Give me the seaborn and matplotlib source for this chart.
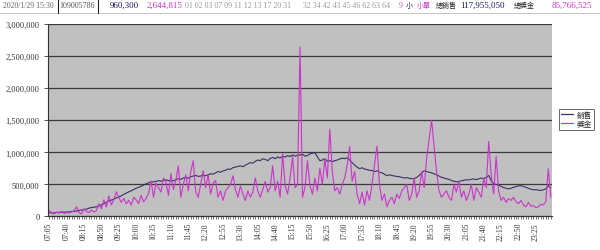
import matplotlib
matplotlib.use("Agg")
import matplotlib.pyplot as plt
import seaborn as sns
import pandas as pd
from matplotlib.lines import Line2D
from matplotlib.ticker import FuncFormatter, MultipleLocator

# ---- data (values in thousands) ----
start_min = 7 * 60 + 5
times = [f"{(start_min + 5 * k) // 60:02d}:{(start_min + 5 * k) % 60:02d}" for k in range(203)]

sales_k = [
    60, 55, 58, 62, 65, 63, 68, 70, 72, 75,
    80, 85, 95, 100, 110, 115, 130, 140, 145, 150,
    165, 180, 200, 220, 243, 255, 270, 290, 305, 320,
    345, 365, 384, 400, 420, 440, 455, 470, 490, 510,
    525, 535, 540, 545, 560, 550, 565, 570, 560, 556,
    556, 575, 590, 580, 600, 610, 595, 620, 630, 640,
    625, 630, 645, 635, 650, 665, 660, 680, 700, 690,
    710, 720, 740, 735, 760, 770, 780, 790, 775, 800,
    820, 840, 830, 860, 880, 870, 900, 890, 870, 905,
    920, 900, 930, 910, 940, 925, 950, 935, 960, 940,
    955, 960, 970, 940, 950, 975, 985, 995, 930, 870,
    880, 900, 860, 870, 855, 870, 880, 895, 910, 900,
    917, 880, 840, 800, 770, 745, 760, 740, 730, 720,
    715, 700, 713, 690, 680, 660, 635, 650, 640, 630,
    625, 620, 610, 600, 605, 595, 590, 588, 610, 640,
    680, 713, 700, 690, 680, 666, 650, 630, 610, 600,
    588, 580, 560, 550, 540, 545, 555, 565, 572, 570,
    580, 585, 575, 588, 600, 590, 610, 640, 560, 510,
    500, 490, 470, 450, 440, 430, 440, 455, 465, 478,
    478, 470, 455, 440, 425, 415, 420, 410, 405, 415,
    430, 478, 450,
]

prize_k = [
    90, 60, 40, 70, 50, 80, 45, 60, 55, 70,
    90, 150, 60, 40, 120, 80, 60, 100, 70, 90,
    200, 120, 260, 150, 320, 180, 260, 384, 300, 220,
    280, 200, 250, 180, 300, 260, 200, 330, 230, 280,
    360, 556, 300, 520, 450, 380, 600, 540, 330, 666,
    420, 560, 790, 300, 500, 650, 400, 700, 870, 380,
    300, 500, 713, 450, 650, 350, 520, 560, 300, 400,
    250, 400, 450, 500, 635, 420, 300, 478, 350, 250,
    400, 300, 380, 600, 400, 300, 420, 550, 380, 450,
    790, 400, 550, 300, 980, 480, 350, 600, 930, 450,
    500, 2645, 300, 450, 870, 480, 350, 600, 400, 750,
    500, 900, 600, 1360, 700, 400, 450, 350, 500, 600,
    800, 1090, 550, 700, 350, 200, 380, 180, 400, 250,
    500, 800, 1100, 500, 250, 350, 150, 250, 300, 200,
    350, 280, 400, 450, 500, 250, 350, 600, 300, 400,
    700, 450, 900, 1200, 1500, 1100, 700, 400, 300, 350,
    400, 300, 250, 500, 380, 550, 300, 400, 250, 350,
    500, 250, 450, 380, 300, 600, 450, 1170, 650, 350,
    935, 400, 250, 300, 220, 280, 250, 300, 230, 200,
    250, 180, 150, 220, 160, 170, 140, 150, 190, 180,
    230, 745, 300,
]

series_names = ["銷售", "獎金"]
series_colors = ["#333366", "#CC33CC"]
y_ticks = [0, 500000, 1000000, 1500000, 2000000, 2500000, 3000000]

# ---- long-form table ----
n = len(times)
df = pd.DataFrame({
    "idx": list(range(n)) * 2,
    "value": [v * 1000 for v in sales_k] + [v * 1000 for v in prize_k],
    "series": [series_names[0]] * n + [series_names[1]] * n,
})

sns.set_theme(style="white")
plt.rcParams["font.family"] = ["Liberation Serif", "Noto Sans CJK TC", "DejaVu Sans"]

fig = plt.figure(figsize=(6.0, 2.51), dpi=100)
ax = fig.add_axes([0.08, 0.1335, 0.84, 0.767])
ax.set_facecolor("#C0C0C0")

sns.lineplot(data=df, x="idx", y="value", hue="series", hue_order=series_names,
             palette=series_colors, linewidth=0.8, ax=ax, legend=False)

ax.set_xlim(-0.5, n - 0.5)
ax.set_ylim(0, 3000000)
ax.set_yticks(y_ticks)
ax.yaxis.set_major_formatter(FuncFormatter(lambda v, p: f"{int(v):,}"))
ax.set_xticks(list(range(0, n, 7)))
ax.set_xticklabels(times[::7], rotation=90, fontsize=5.5, color="#333333")
ax.xaxis.set_minor_locator(MultipleLocator(1))
ax.tick_params(axis="x", which="both", direction="out", length=2, width=0.5,
               color="#333333", pad=2, bottom=True)
ax.tick_params(axis="y", which="major", direction="out", length=3, width=0.6,
               color="#333333", labelsize=6, labelcolor="#333333", pad=3, left=True)
for lbl in ax.get_yticklabels():
    lbl.set_fontsize(6)
ax.set_xlabel("")
ax.set_ylabel("")
ax.grid(axis="y", color="#3a3a3a", linewidth=0.9)
ax.set_axisbelow(True)
for s in ["top", "right"]:
    ax.spines[s].set_visible(False)
for s in ["left", "bottom"]:
    ax.spines[s].set_color("#333333")
    ax.spines[s].set_linewidth(0.8)

# legend
handles = [Line2D([0], [0], color=c, lw=0.9) for c in series_colors]
leg = fig.legend(handles, series_names, loc="center left",
                 bbox_to_anchor=(0.925, 0.52), frameon=True, fancybox=False,
                 handlelength=1.6, handletextpad=0.4, borderpad=0.3,
                 labelspacing=0.15, prop={"family": "Noto Sans CJK TC", "size": 5.5})
leg.get_frame().set_edgecolor("#222222")
leg.get_frame().set_linewidth(0.6)

# header row (spreadsheet cells above the chart)
hy = 1 - 6 / 251
def htxt(xpx, s, color, size=6.0, family=None):
    kw = {}
    if family:
        kw["family"] = family
    fig.text(xpx / 600, hy, s, color=color, fontsize=size, ha="left", va="center", **kw)

htxt(3, "2020/1/29 15:30", "#666666", 5.6)
htxt(59, "109005786", "#555555", 5.8)
htxt(110, "960,300", "#1a1a66", 6.5)
htxt(147, "2,644,815", "#CC33CC", 6.5)
htxt(185, "01 02 03 07 09 11 12 13 17 20 31", "#999999", 5.7)
htxt(303, "32 34 42 43 45 46 62 63 64", "#999999", 5.7)
htxt(399, "9", "#CC66CC", 5.5)
htxt(406, "小", "#1a1a66", 5.0, ["Noto Sans CJK TC", "DejaVu Sans"])
htxt(417, "小單", "#CC33CC", 5.0, ["Noto Sans CJK TC", "DejaVu Sans"])
htxt(436, "總銷售", "#222222", 5.0, ["Noto Sans CJK TC", "DejaVu Sans"])
htxt(460, "117,955,050", "#1a1a66", 6.5)
htxt(514, "總獎金", "#222222", 5.0, ["Noto Sans CJK TC", "DejaVu Sans"])
htxt(552, "85,766,525", "#CC33CC", 6.5)

fig.add_artist(Line2D([0, 1], [1 - 14 / 251, 1 - 14 / 251], color="#BBBBBB", lw=0.6,
                      transform=fig.transFigure))
for xp in (57.5, 97.5):
    fig.add_artist(Line2D([xp / 600, xp / 600], [1 - 14 / 251, 1.0], color="#222222",
                          lw=0.8, transform=fig.transFigure))

fig.savefig("out.png", dpi=100, facecolor="white")
